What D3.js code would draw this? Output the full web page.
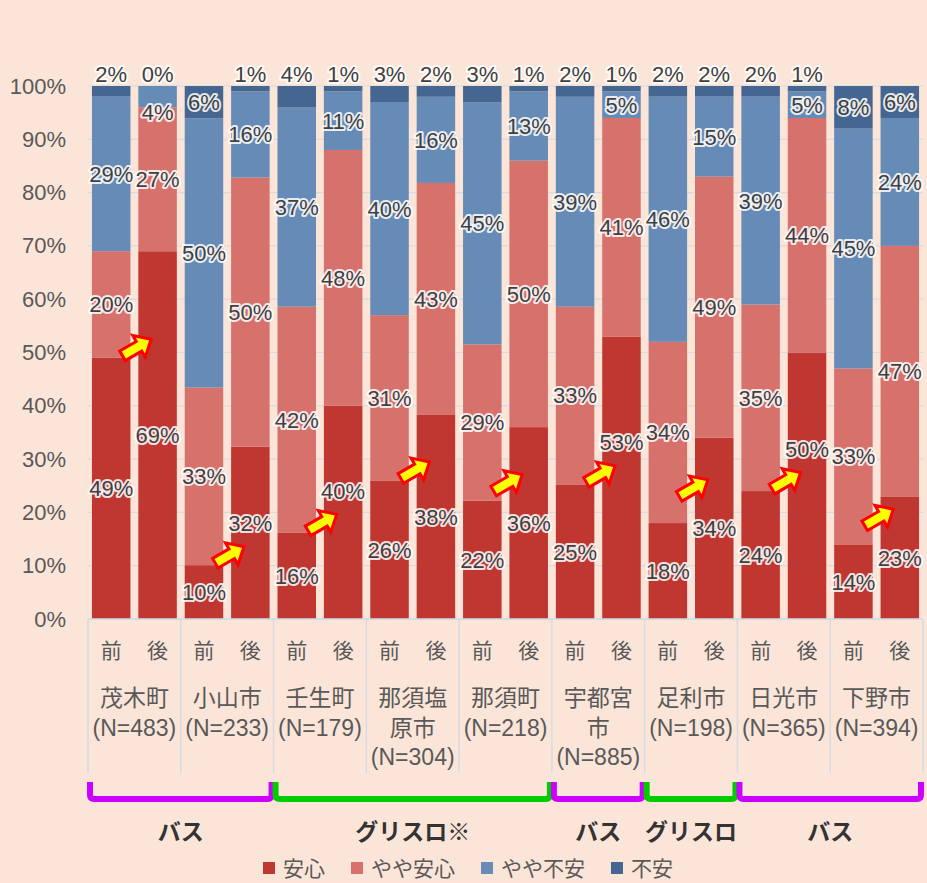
<!DOCTYPE html>
<html>
<head>
<meta charset="utf-8">
<script src="https://cdn.jsdelivr.net/npm/d3@7"></script>
<style>
  html, body { margin: 0; padding: 0; background: #fbe5d8; }
  svg { display: block; font-family: 'Liberation Sans', 'Noto Sans CJK JP', sans-serif; }
</style>
</head>
<body>
<div id="chart"></div>
<script>
// data
const towns = ['茂木町', '小山市', '壬生町', '那須塩原市', '那須町', '宇都宮市', '足利市', '日光市', '下野市'];
const townLines = [
  ['茂木町', '(N=483)'], ['小山市', '(N=233)'], ['壬生町', '(N=179)'],
  ['那須塩', '原市', '(N=304)'], ['那須町', '(N=218)'], ['宇都宮', '市', '(N=885)'],
  ['足利市', '(N=198)'], ['日光市', '(N=365)'], ['下野市', '(N=394)']
];
const periods = ['前', '後'];
const series = ['安心', 'やや安心', 'やや不安', '不安'];
// values per bar: 前, 後 for each town in order
const anshin     = [49, 69, 10, 32, 16, 40, 26, 38, 22, 36, 25, 53, 18, 34, 24, 50, 14, 23];
const yayaAnshin = [20, 27, 33, 50, 42, 48, 31, 43, 29, 50, 33, 41, 34, 49, 35, 44, 33, 47];
const yayaFuan   = [29,  4, 50, 16, 37, 11, 40, 16, 45, 13, 39,  5, 46, 15, 39,  5, 45, 24];
const fuan       = [ 2,  0,  6,  1,  4,  1,  3,  2,  3,  1,  2,  1,  2,  2,  2,  1,  8,  6];
const yTicks = [0, 0.1, 0.2, 0.3, 0.4, 0.5, 0.6, 0.7, 0.8, 0.9, 1];
const modeLabels = ['バス', 'グリスロ※', 'バス', 'グリスロ', 'バス'];
const modeTowns = [['茂木町', '小山市'], ['壬生町', '那須塩原市', '那須町'], ['宇都宮市'], ['足利市'], ['日光市', '下野市']];

const colors = ['#c03732', '#d7716c', '#668bb6', '#456690'];
const modeColors = ['#cc00ff', '#00cc00', '#cc00ff', '#00cc00', '#cc00ff'];

const W = 927, H = 883;
const plotLeft = 88, plotRight = 923, plotTop = 86, plotBottom = 619;

const bars = [];
towns.forEach((t, g) => {
  periods.forEach((p, j) => {
    const i = g * 2 + j;
    bars.push({
      key: t + p, town: t, period: p,
      '安心': anshin[i], 'やや安心': yayaAnshin[i], 'やや不安': yayaFuan[i], '不安': fuan[i]
    });
  });
});

const svg = d3.select('#chart').append('svg')
  .attr('width', W)
  .attr('height', H);

svg.append('rect').attr('width', W).attr('height', H).attr('fill', '#fbe5d8');

const x = d3.scaleBand()
  .domain(bars.map(d => d.key))
  .range([plotLeft, plotRight])
  .paddingInner(0.17)
  .paddingOuter(0.085);

const gx = d3.scaleBand()
  .domain(towns)
  .range([plotLeft, plotRight]);

const y = d3.scaleLinear()
  .domain([0, 1])
  .range([plotBottom, plotTop]);

// gridlines
svg.append('g')
  .selectAll('line')
  .data(yTicks)
  .join('line')
  .attr('x1', plotLeft).attr('x2', plotRight)
  .attr('y1', d => y(d)).attr('y2', d => y(d))
  .attr('stroke', '#d6dbe2')
  .attr('stroke-width', 1.2);

// y axis
const yAxis = svg.append('g')
  .attr('transform', `translate(${plotLeft},0)`)
  .call(d3.axisLeft(y).tickValues(yTicks).tickFormat(d3.format('.0%')).tickSize(0).tickPadding(22));
yAxis.select('.domain').remove();
yAxis.selectAll('text')
  .attr('font-size', 22)
  .attr('fill', '#595959')
  .attr('font-family', "'Liberation Sans', sans-serif");

const stacked = d3.stack().keys(series).offset(d3.stackOffsetExpand)(bars);

svg.append('g')
  .selectAll('g')
  .data(stacked)
  .join('g')
  .attr('fill', (d, i) => colors[i])
  .selectAll('rect')
  .data(d => d)
  .join('rect')
  .attr('x', d => x(d.data.key))
  .attr('width', x.bandwidth())
  .attr('y', d => y(d[1]))
  .attr('height', d => y(d[0]) - y(d[1]));

// data labels
const topLabelY = y(1) - 12;
const labels = [];
stacked.forEach((s, si) => {
  s.forEach((d, bi) => {
    const v = d.data[series[si]];
    let ly = y((d[0] + d[1]) / 2);
    if (si === 3 && v < 5) ly = topLabelY;
    if (si === 2 && d.data['不安'] < 5 && ly - topLabelY < 28) ly = topLabelY + 38;
    labels.push({ x: x(d.data.key) + x.bandwidth() / 2, y: ly, text: v + '%', si, bi });
  });
});

// arrows between 前 and 後, kept clear of the 後 安心 label
const arrows = towns.map((t, g) => {
  const label = labels.find(l => l.si === 0 && l.bi === g * 2 + 1);
  let ay = y(stacked[0][g * 2][1]) - 10;
  const dy = label.y - ay;
  if (dy > 15 && dy < 40) ay = label.y - 40;
  else if (Math.abs(dy) < 34) label.y = ay - 32;
  return { x: gx(t) + gx.bandwidth() / 2 + 2, y: ay };
});

const arrowPath = 'M-16,-5.5 L3,-5.5 L3,-12.5 L17,0 L3,12.5 L3,5.5 L-16,5.5 Z';
svg.append('g')
  .selectAll('path')
  .data(arrows)
  .join('path')
  .attr('d', arrowPath)
  .attr('transform', d => `translate(${d.x},${d.y}) rotate(-30)`)
  .attr('fill', '#ffff00')
  .attr('stroke', '#ff0000')
  .attr('stroke-width', 3)
  .attr('stroke-linejoin', 'miter');

const lab = svg.append('g')
  .attr('font-size', 22)
  .attr('font-family', "'Liberation Sans', sans-serif")
  .attr('text-anchor', 'middle');

lab.selectAll('text.halo')
  .data(labels)
  .join('text')
  .attr('class', 'halo')
  .attr('x', d => d.x).attr('y', d => d.y).attr('dy', '0.36em')
  .attr('fill', 'none')
  .attr('stroke', '#ffffff')
  .attr('stroke-opacity', 0.85)
  .attr('stroke-width', 4)
  .attr('stroke-linejoin', 'round')
  .text(d => d.text);

lab.selectAll('text.val')
  .data(labels)
  .join('text')
  .attr('class', 'val')
  .attr('x', d => d.x).attr('y', d => d.y).attr('dy', '0.36em')
  .attr('fill', '#404040')
  .text(d => d.text);

// category axis
const cat = svg.append('g').attr('stroke', '#d6dbe2').attr('stroke-width', 1.5);
cat.append('line')
  .attr('x1', plotLeft).attr('x2', plotRight)
  .attr('y1', plotBottom).attr('y2', plotBottom);
cat.selectAll('line.sep')
  .data(towns.concat(['end']))
  .join('line')
  .attr('class', 'sep')
  .attr('x1', (t, i) => i < towns.length ? gx(t) : plotRight)
  .attr('x2', (t, i) => i < towns.length ? gx(t) : plotRight)
  .attr('y1', plotBottom).attr('y2', 773);

svg.append('g')
  .attr('font-size', 21)
  .attr('fill', '#595959')
  .attr('text-anchor', 'middle')
  .selectAll('text')
  .data(bars)
  .join('text')
  .attr('x', d => x(d.key) + x.bandwidth() / 2)
  .attr('y', 650)
  .attr('dy', '0.36em')
  .text(d => d.period);

const townG = svg.append('g')
  .attr('font-size', 23)
  .attr('fill', '#595959')
  .attr('text-anchor', 'middle')
  .selectAll('text')
  .data(towns)
  .join('text')
  .attr('x', t => gx(t) + gx.bandwidth() / 2)
  .attr('y', 698);

townG.selectAll('tspan')
  .data((t, i) => townLines[i])
  .join('tspan')
  .attr('x', function () { return this.parentNode.getAttribute('x'); })
  .attr('y', (d, i) => 698 + i * 29.5)
  .attr('dy', '0.36em')
  .text(d => d);

// transport mode brackets
const bracketTop = 782, bracketY = 799;
modeTowns.forEach((ts, i) => {
  const x0 = gx(ts[0]) + 2;
  const x1 = gx(ts[ts.length - 1]) + gx.bandwidth() - 2;
  svg.append('path')
    .attr('d', `M${x0},${bracketTop} V${bracketY - 4} Q${x0},${bracketY} ${x0 + 4},${bracketY} H${x1 - 4} Q${x1},${bracketY} ${x1},${bracketY - 4} V${bracketTop}`)
    .attr('fill', 'none')
    .attr('stroke', modeColors[i])
    .attr('stroke-width', 6);
  svg.append('text')
    .attr('x', (x0 + x1) / 2)
    .attr('y', 832)
    .attr('dy', '0.36em')
    .attr('text-anchor', 'middle')
    .attr('font-size', 23)
    .attr('font-weight', 'bold')
    .attr('font-family', "'Noto Sans CJK JP', sans-serif")
    .attr('fill', '#333333')
    .text(modeLabels[i]);
});

// legend
const legend = svg.append('g').attr('font-size', 21).attr('fill', '#595959');
let lx = 263;
series.forEach((s, i) => {
  legend.append('rect')
    .attr('x', lx).attr('y', 862)
    .attr('width', 12).attr('height', 12)
    .attr('fill', colors[i]);
  const t = legend.append('text')
    .attr('x', lx + 20).attr('y', 868)
    .attr('dy', '0.36em')
    .text(s);
  lx += 20 + t.node().getComputedTextLength() + 26;
});
</script>
</body>
</html>
